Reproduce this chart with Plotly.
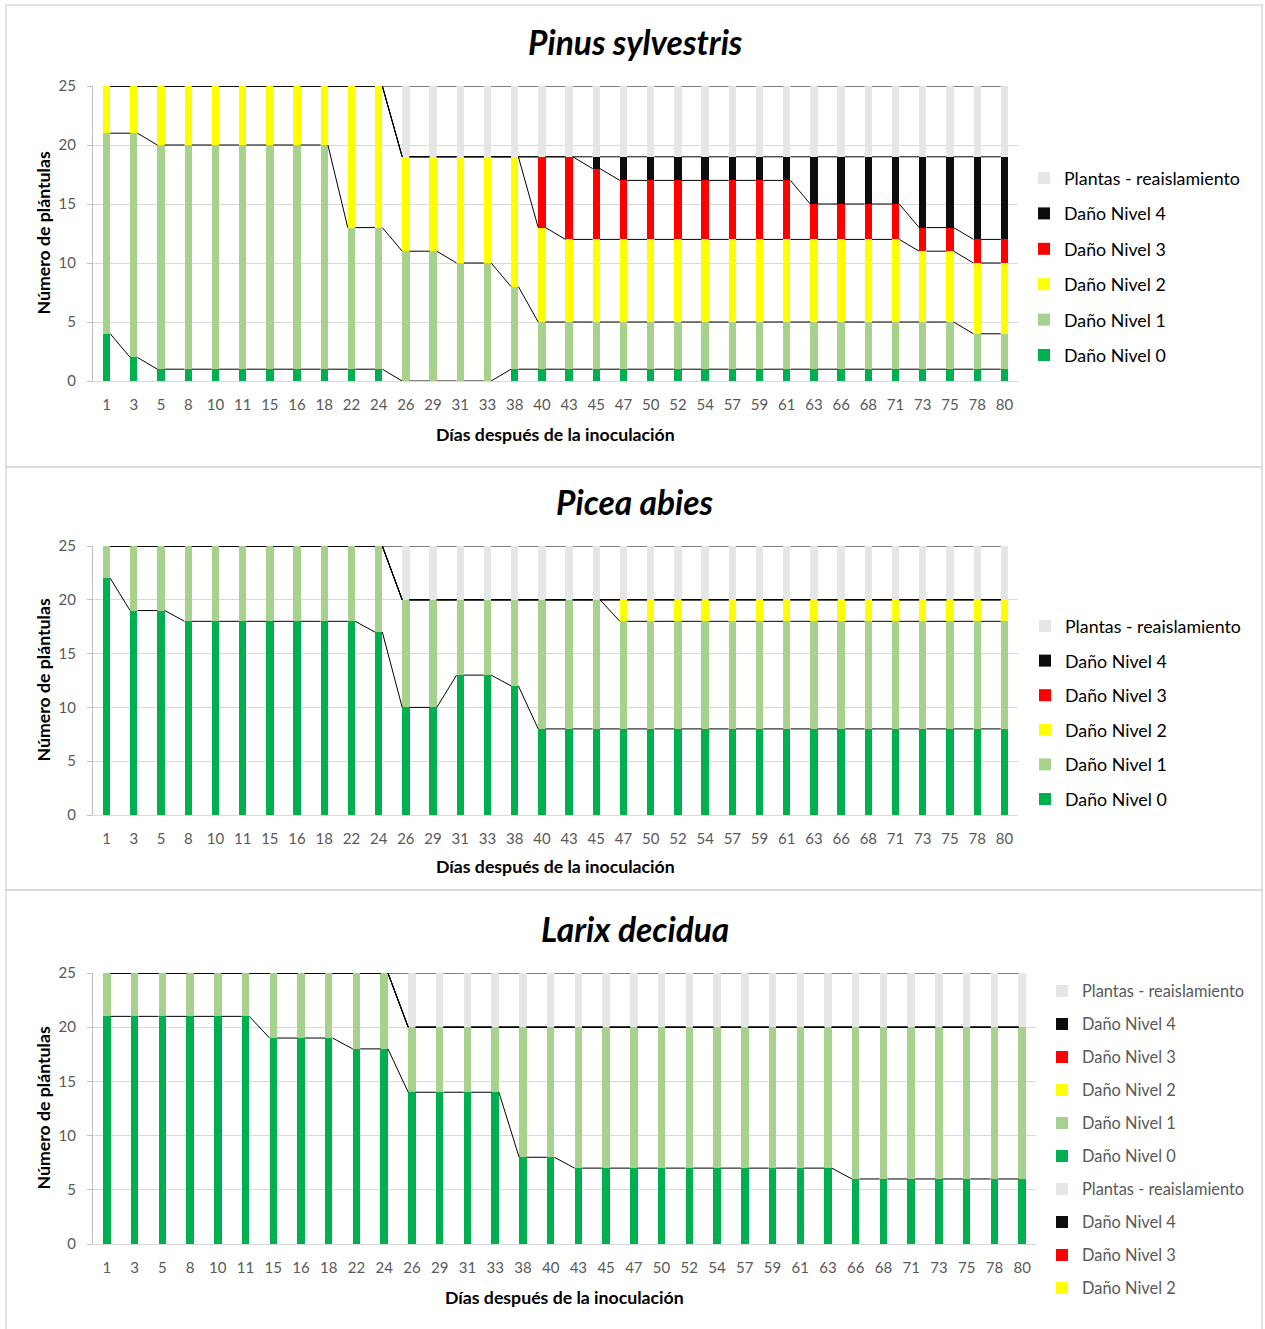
import plotly.graph_objects as go

# ---------------- data ----------------
dias = ["1", "3", "5", "8", "10", "11", "15", "16", "18", "22", "24", "26", "29", "31", "33",
        "38", "40", "43", "45", "47", "50", "52", "54", "57", "59", "61", "63", "66", "68",
        "71", "73", "75", "78", "80"]

series_names = ["Daño Nivel 0", "Daño Nivel 1", "Daño Nivel 2", "Daño Nivel 3",
                "Daño Nivel 4", "Plantas - reaislamiento"]
series_colors = ["#00b050", "#a9d18e", "#ffff00", "#ff0000", "#0d0d0d", "#e6e6e6"]

# Pinus sylvestris
pinus_n0 = [4, 2, 1, 1, 1, 1, 1, 1, 1, 1, 1, 0, 0, 0, 0, 1, 1,
            1, 1, 1, 1, 1, 1, 1, 1, 1, 1, 1, 1, 1, 1, 1, 1, 1]
pinus_n1 = [17, 19, 19, 19, 19, 19, 19, 19, 19, 12, 12, 11, 11, 10, 10, 7, 4,
            4, 4, 4, 4, 4, 4, 4, 4, 4, 4, 4, 4, 4, 4, 4, 3, 3]
pinus_n2 = [4, 4, 5, 5, 5, 5, 5, 5, 5, 12, 12, 8, 8, 9, 9, 11, 8,
            7, 7, 7, 7, 7, 7, 7, 7, 7, 7, 7, 7, 7, 6, 6, 6, 6]
pinus_n3 = [0, 0, 0, 0, 0, 0, 0, 0, 0, 0, 0, 0, 0, 0, 0, 0, 6,
            7, 6, 5, 5, 5, 5, 5, 5, 5, 3, 3, 3, 3, 2, 2, 2, 2]
pinus_n4 = [0, 0, 0, 0, 0, 0, 0, 0, 0, 0, 0, 0, 0, 0, 0, 0, 0,
            0, 1, 2, 2, 2, 2, 2, 2, 2, 4, 4, 4, 4, 6, 6, 7, 7]
pinus_re = [0, 0, 0, 0, 0, 0, 0, 0, 0, 0, 0, 6, 6, 6, 6, 6, 6,
            6, 6, 6, 6, 6, 6, 6, 6, 6, 6, 6, 6, 6, 6, 6, 6, 6]

# Picea abies
picea_n0 = [22, 19, 19, 18, 18, 18, 18, 18, 18, 18, 17, 10, 10, 13, 13, 12, 8,
            8, 8, 8, 8, 8, 8, 8, 8, 8, 8, 8, 8, 8, 8, 8, 8, 8]
picea_n1 = [3, 6, 6, 7, 7, 7, 7, 7, 7, 7, 8, 10, 10, 7, 7, 8, 12,
            12, 12, 10, 10, 10, 10, 10, 10, 10, 10, 10, 10, 10, 10, 10, 10, 10]
picea_n2 = [0, 0, 0, 0, 0, 0, 0, 0, 0, 0, 0, 0, 0, 0, 0, 0, 0,
            0, 0, 2, 2, 2, 2, 2, 2, 2, 2, 2, 2, 2, 2, 2, 2, 2]
picea_n3 = [0] * 34
picea_n4 = [0] * 34
picea_re = [0, 0, 0, 0, 0, 0, 0, 0, 0, 0, 0, 5, 5, 5, 5, 5, 5,
            5, 5, 5, 5, 5, 5, 5, 5, 5, 5, 5, 5, 5, 5, 5, 5, 5]

# Larix decidua
larix_n0 = [21, 21, 21, 21, 21, 21, 19, 19, 19, 18, 18, 14, 14, 14, 14, 8, 8,
            7, 7, 7, 7, 7, 7, 7, 7, 7, 7, 6, 6, 6, 6, 6, 6, 6]
larix_n1 = [4, 4, 4, 4, 4, 4, 6, 6, 6, 7, 7, 6, 6, 6, 6, 12, 12,
            13, 13, 13, 13, 13, 13, 13, 13, 13, 13, 14, 14, 14, 14, 14, 14, 14]
larix_n2 = [0] * 34
larix_n3 = [0] * 34
larix_n4 = [0] * 34
larix_re = [0, 0, 0, 0, 0, 0, 0, 0, 0, 0, 0, 5, 5, 5, 5, 5, 5,
            5, 5, 5, 5, 5, 5, 5, 5, 5, 5, 5, 5, 5, 5, 5, 5, 5]

titles = ["Pinus sylvestris", "Picea abies", "Larix decidua"]
y_ticks = [0, 5, 10, 15, 20, 25]

panels_data = [
    [pinus_n0, pinus_n1, pinus_n2, pinus_n3, pinus_n4, pinus_re],
    [picea_n0, picea_n1, picea_n2, picea_n3, picea_n4, picea_re],
    [larix_n0, larix_n1, larix_n2, larix_n3, larix_n4, larix_re],
]

# ---------------- layout geometry (pixels) ----------------
W, H = 1265, 1329
FONT = "Lato"
BAR_W = 0.27


def fx(px):
    return px / W


def fy(py):
    return 1 - py / H


panel_geo = [
    dict(x0=93, x1=1018, ytop=86, ybot=381, title_y=42, xlab_y=434,
         leg_x=1064, leg_y=179, leg_gap=35.4, leg_font=17.8, leg_col="#000000",
         box=(6, 5, 1262, 467)),
    dict(x0=93, x1=1018, ytop=546, ybot=815, title_y=502, xlab_y=867,
         leg_x=1065, leg_y=627, leg_gap=34.6, leg_font=17.8, leg_col="#000000",
         box=(6, 467, 1262, 890)),
    dict(x0=93, x1=1036, ytop=973, ybot=1244, title_y=929, xlab_y=1297,
         leg_x=1082, leg_y=992, leg_gap=33, leg_font=16.4, leg_col="#595959",
         box=(6, 890, 1262, 1340)),
]

fig = go.Figure()
layout = dict(
    template="none",
    width=W, height=H, margin=dict(l=0, r=0, t=0, b=0, pad=0, autoexpand=False),
    paper_bgcolor="white", plot_bgcolor="white",
    barmode="stack", font=dict(family=FONT), showlegend=True,
    annotations=[], shapes=[],
)

xs_idx = list(range(len(dias)))

for p, (data, geo) in enumerate(zip(panels_data, panel_geo)):
    sfx = "" if p == 0 else str(p + 1)
    xref, yref = "x" + sfx, "y" + sfx
    legname = "legend" + sfx

    for k, vals in enumerate(data):
        fig.add_trace(go.Bar(
            x=xs_idx, y=vals, name=series_names[k], width=BAR_W,
            marker=dict(color=series_colors[k], line=dict(width=0)),
            xaxis=xref, yaxis=yref, legend=legname, legendgroup=f"g{p}_{k}",
            legendrank=6 - k))

    # legend-only duplicated entries seen in the third panel of the original
    if p == 2:
        for j, k in enumerate([5, 4, 3, 2]):
            fig.add_trace(go.Bar(
                x=[None], y=[None], name=series_names[k],
                marker=dict(color=series_colors[k], line=dict(width=0)),
                xaxis=xref, yaxis=yref, legend=legname, legendgroup=f"dup{p}_{k}",
                width=BAR_W, hoverinfo="skip", legendrank=7 + j))

    # Excel-style series lines connecting the top of each stacked segment
    cum = []
    run = [0] * len(dias)
    for vals in data:
        run = [a + b for a, b in zip(run, vals)]
        cum.append(run)
    lx, ly = [], []
    for c in cum:
        for i in range(len(dias) - 1):
            lx += [i + BAR_W / 2, i + 1 - BAR_W / 2, None]
            ly += [c[i], c[i + 1], None]
    fig.add_trace(go.Scatter(x=lx, y=ly, mode="lines", line=dict(color="black", width=1),
                             xaxis=xref, yaxis=yref, showlegend=False, hoverinfo="skip"))

    layout["xaxis" + sfx] = dict(
        domain=[fx(geo["x0"]), fx(geo["x1"])], anchor=yref, automargin=False,
        range=[-0.5, len(dias) - 0.5], tickmode="array", tickvals=xs_idx, ticktext=dias,
        showgrid=False, zeroline=False, showline=True, linecolor="#d9d9d9", linewidth=1,
        ticks="", tickfont=dict(size=15, color="#595959", family=FONT),
        ticklabelstandoff=10, fixedrange=True)
    layout["yaxis" + sfx] = dict(
        domain=[fy(geo["ybot"]), fy(geo["ytop"])], anchor=xref, automargin=False,
        range=[0, 25], tickmode="array", tickvals=y_ticks,
        showgrid=True, gridcolor="#d9d9d9", gridwidth=1, zeroline=False,
        showline=True, linecolor="#bfbfbf", linewidth=1,
        ticks="outside", ticklen=5, tickcolor="#bfbfbf",
        tickfont=dict(size=15, color="#595959", family=FONT),
        ticklabelstandoff=8, fixedrange=True)

    item_h = geo["leg_font"] * 1.3 + 3
    layout[legname] = dict(
        x=fx(geo["leg_x"] - 40), xanchor="left",
        y=fy(geo["leg_y"] - item_h / 2 - 6), yanchor="top",
        traceorder="grouped", tracegroupgap=geo["leg_gap"] - item_h,
        bgcolor="rgba(0,0,0,0)", borderwidth=0,
        font=dict(size=geo["leg_font"], color=geo["leg_col"], family=FONT),
        itemclick=False, itemdoubleclick=False)

    # title
    layout["annotations"].append(dict(
        text=f"<b><i>{titles[p]}</i></b>", x=fx(635), y=fy(geo["title_y"]),
        xref="paper", yref="paper", xanchor="center", yanchor="middle", showarrow=False,
        font=dict(size=33.5, color="#000000", family=FONT)))
    # x axis title
    layout["annotations"].append(dict(
        text="<b>Días después de la inoculación</b>", x=fx((geo["x0"] + geo["x1"]) / 2),
        y=fy(geo["xlab_y"]), xref="paper", yref="paper", xanchor="center",
        yanchor="middle", showarrow=False, font=dict(size=17.7, color="#000000", family=FONT)))
    # y axis title
    layout["annotations"].append(dict(
        text="<b>Número de plántulas</b>", x=fx(43),
        y=fy((geo["ytop"] + geo["ybot"]) / 2), xref="paper", yref="paper",
        xanchor="center", yanchor="middle", textangle=-90, showarrow=False,
        font=dict(size=17.7, color="#000000", family=FONT)))
    # panel frame
    bx0, by0, bx1, by1 = geo["box"]
    layout["shapes"].append(dict(
        type="rect", xref="paper", yref="paper", x0=fx(bx0), x1=fx(bx1),
        y0=fy(by1), y1=fy(by0), line=dict(color="#d9d9d9", width=1.5),
        fillcolor="rgba(0,0,0,0)", layer="below"))

fig.update_layout(**layout)

fig.write_html(
    "out.html", config={"displayModeBar": False},
    post_script=("document.documentElement.style.margin='0';"
                 "document.body.style.margin='0';document.body.style.padding='0';"
                 "var gd=document.getElementById('{plot_id}');"
                 "gd.style.position='absolute';gd.style.top='0px';gd.style.left='0px';"))
